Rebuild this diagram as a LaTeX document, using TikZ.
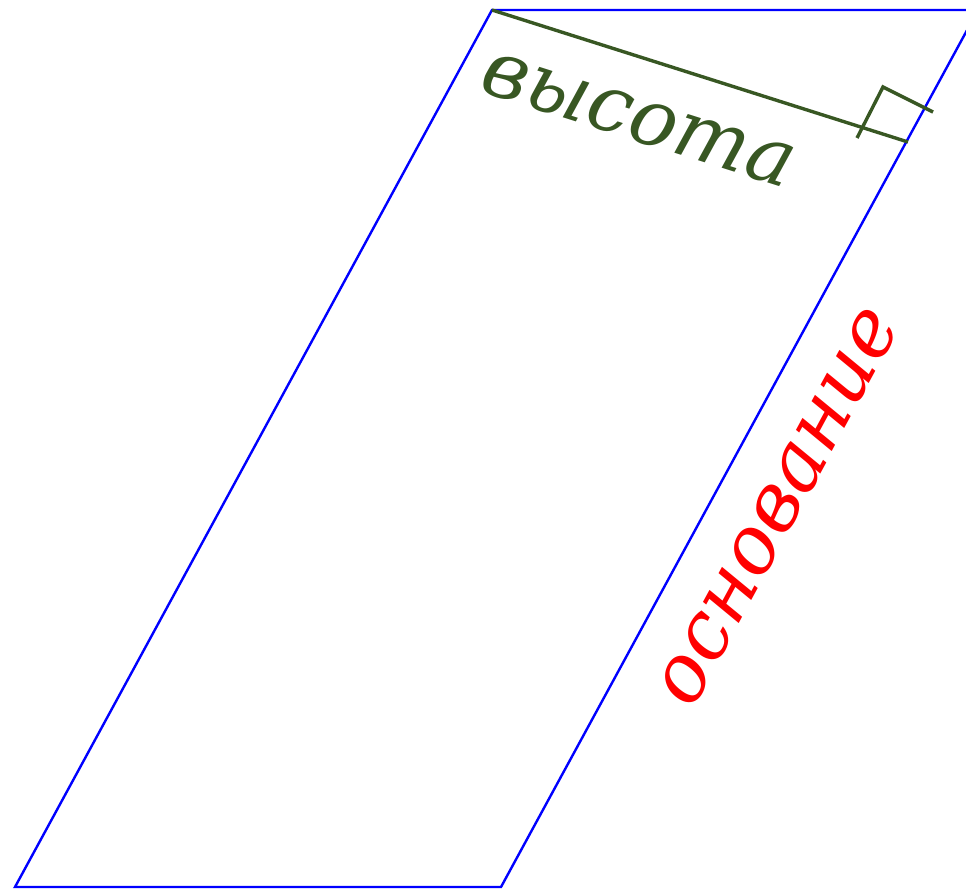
\documentclass[tikz,border=0pt]{standalone}
\usepackage{fontspec}
\setmainfont{DejaVu Serif}
\begin{document}
\begin{tikzpicture}[x=1pt,y=-1pt,
  edge/.style={draw={rgb,255:red,0;green,0;blue,255}, line width=2.4pt, line join=miter},
  hgt/.style={draw=hgreen, line width=3.4pt},
  lbl/.style={font=\itshape, inner sep=0pt}]
\definecolor{hgreen}{RGB}{56,87,35}
\useasboundingbox (0,0) rectangle (966,890);
\coordinate (A) at (15,887);
\coordinate (B) at (501,887);
\coordinate (C) at (978,10);
\coordinate (D) at (492,10);
\coordinate (F) at (908,142);
\coordinate (M1) at (857,138);
\coordinate (M2) at (883,87);
\coordinate (M3) at (933,112);
\begin{scope}
\clip (0,0) rectangle (966,890);
\draw[edge] (A) -- (B) -- (C) -- (D) -- cycle;
\end{scope}
\draw[hgt] (D) -- (F);
\draw[hgt] (M1) -- (M2) -- (M3);
\node[lbl, text=hgreen, rotate=-17.6, font=\itshape\fontsize{79}{88}\selectfont] (h) at (638,120) {высота};
\node[lbl, text=red, rotate=61.5, font=\itshape\fontsize{80}{88}\selectfont] (b) at (779,507) {основание};
\end{tikzpicture}
\end{document}
